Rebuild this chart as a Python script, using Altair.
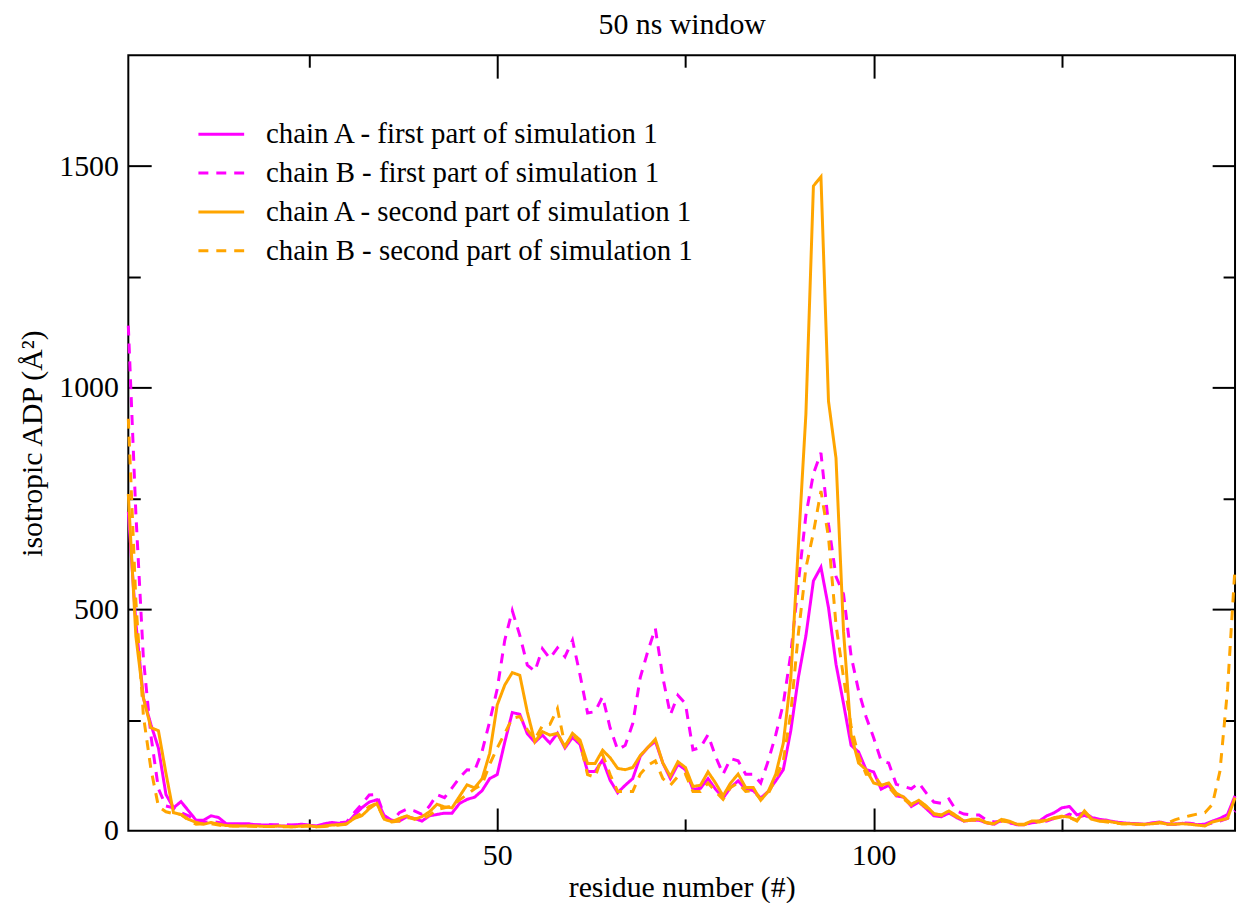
import altair as alt
import pandas as pd

residues = list(range(1, 149))

chainA_first = [720, 470, 300, 240, 187, 82, 52, 66, 45, 24,
                24, 34, 30, 16, 16, 16, 16, 13, 13, 13,
                11, 11, 13, 15, 13, 11, 16, 19, 17, 16,
                35, 52, 65, 70, 34, 24, 22, 32, 28, 22,
                34, 37, 40, 40, 62, 71, 76, 91, 118, 127,
                200, 267, 263, 219, 200, 216, 198, 220, 187, 211,
                195, 134, 134, 160, 114, 86, 103, 118, 168, 188,
                202, 153, 118, 150, 138, 94, 96, 118, 94, 74,
                98, 113, 94, 91, 74, 89, 113, 138, 227, 346,
                440, 564, 595, 504, 376, 287, 193, 178, 138, 133,
                94, 103, 79, 76, 55, 65, 50, 34, 32, 40,
                30, 22, 24, 24, 18, 15, 24, 20, 14, 14,
                20, 22, 34, 41, 52, 55, 36, 41, 30, 26,
                24, 20, 18, 17, 16, 15, 18, 20, 16, 15,
                17, 16, 14, 15, 22, 28, 37, 79]

chainB_first = [1140, 717, 390, 215, 95, 56, 52, 41, 34, 22,
                19, 21, 19, 16, 14, 14, 14, 14, 13, 14,
                14, 14, 13, 14, 12, 10, 14, 17, 18, 20,
                41, 60, 81, 82, 34, 22, 41, 49, 45, 37,
                56, 82, 75, 97, 120, 138, 136, 180, 247, 320,
                430, 497, 441, 374, 360, 411, 389, 413, 393, 430,
                352, 266, 269, 303, 232, 183, 193, 242, 346, 405,
                457, 346, 262, 306, 287, 183, 188, 217, 168, 128,
                163, 158, 128, 128, 108, 158, 217, 287, 400, 560,
                712, 806, 853, 692, 574, 534, 395, 316, 257, 210,
                158, 153, 105, 100, 95, 108, 85, 65, 62, 72,
                45, 38, 36, 36, 24, 20, 22, 18, 15, 14,
                18, 20, 22, 28, 30, 38, 30, 35, 28, 24,
                22, 20, 18, 17, 15, 15, 17, 18, 15, 15,
                18, 17, 15, 13, 18, 22, 28, 45]

chainA_second = [760, 440, 300, 233, 226, 130, 41, 37, 26, 19,
                 15, 19, 15, 12, 11, 11, 11, 11, 10, 10,
                 11, 10, 9, 11, 12, 9, 11, 13, 14, 16,
                 28, 34, 50, 62, 26, 21, 28, 34, 26, 32,
                 43, 60, 54, 52, 78, 104, 97, 118, 175, 284,
                 329, 357, 351, 268, 201, 224, 216, 220, 190, 220,
                 205, 152, 152, 182, 165, 141, 138, 143, 170, 188,
                 207, 153, 123, 156, 143, 100, 103, 133, 108, 79,
                 108, 128, 98, 98, 69, 89, 128, 198, 346, 643,
                 940, 1455, 1476, 970, 841, 450, 217, 153, 138, 108,
                 103, 108, 85, 76, 60, 69, 56, 39, 36, 45,
                 34, 22, 26, 26, 19, 16, 26, 22, 15, 15,
                 22, 22, 24, 30, 33, 31, 22, 45, 26, 22,
                 22, 19, 16, 16, 15, 15, 16, 19, 15, 15,
                 16, 15, 13, 11, 20, 24, 28, 75]

chainB_second = [930, 520, 260, 140, 55, 43, 39, 37, 24, 15,
                 16, 16, 13, 11, 11, 11, 11, 10, 10, 10,
                 10, 9, 9, 10, 11, 9, 10, 12, 13, 15,
                 30, 40, 55, 62, 26, 20, 22, 30, 28, 26,
                 35, 48, 52, 56, 70, 82, 95, 105, 150, 187,
                 220, 254, 258, 228, 207, 237, 240, 276, 192, 216,
                 200, 127, 121, 172, 127, 89, 89, 89, 128, 148,
                 158, 118, 103, 123, 128, 89, 89, 108, 89, 71,
                 98, 108, 89, 91, 71, 84, 118, 158, 267, 445,
                 593, 673, 767, 663, 465, 346, 237, 168, 128, 128,
                 103, 98, 80, 72, 58, 65, 52, 38, 35, 42,
                 32, 22, 24, 24, 18, 15, 22, 20, 14, 14,
                 20, 20, 24, 28, 32, 30, 24, 42, 25, 22,
                 20, 18, 16, 16, 15, 14, 16, 18, 17, 25,
                 30, 34, 38, 41, 60, 135, 318, 595]

series_names = [
    "chain A - first part of simulation 1",
    "chain B - first part of simulation 1",
    "chain A - second part of simulation 1",
    "chain B - second part of simulation 1",
]
series_values = [chainA_first, chainB_first, chainA_second, chainB_second]
series_colors = ["#ff00ff", "#ff00ff", "#ffa500", "#ffa500"]
series_dashes = [[1, 0], [10, 8], [1, 0], [10, 8]]

chart_title = "50 ns window"
x_title = "residue number (#)"
y_title = "isotropic ADP (Å²)"

x_label_values = [50, 100]
x_tick_values = [25, 50, 75, 100, 125]
y_label_values = [0, 500, 1000, 1500]
y_tick_values = [250, 500, 750, 1000, 1250, 1500]

rows = []
for name, vals in zip(series_names, series_values):
    for r, v in zip(residues, vals):
        rows.append({"residue": r, "value": v, "series": name})
df = pd.DataFrame(rows)

W, H = 1113, 780
FONT = "Liberation Serif"

xscale = alt.Scale(domain=[1, 148], nice=False, zero=False)
yscale = alt.Scale(domain=[0, 1750], nice=False, zero=True)

legend = alt.Legend(
    orient="none", legendX=79, legendY=65, title=None,
    symbolType="M-2,0L2,0", symbolSize=529, symbolStrokeWidth=3,
    labelFont=FONT, labelFontSize=29, labelColor="black",
    labelOffset=30.5, rowPadding=9, padding=0, labelLimit=0,
)
color = alt.Color("series:N", scale=alt.Scale(domain=series_names, range=series_colors), legend=legend)
dash = alt.StrokeDash("series:N", scale=alt.Scale(domain=series_names, range=series_dashes), legend=legend)

x_tick_size = {"condition": {"test": "datum.value % 50 === 0", "value": 23}, "value": 12}
y_tick_size = {"condition": {"test": "datum.value % 500 === 0", "value": 23}, "value": 12}

label_x_axis = alt.Axis(orient="bottom", values=x_label_values, ticks=False, tickSize=0, domain=False,
                        grid=False, labelFont=FONT, labelFontSize=30, labelColor="black",
                        labelBaseline="alphabetic", labelPadding=34, format="d",
                        title=x_title, titleFont=FONT, titleFontSize=30,
                        titleFontWeight="normal", titleColor="black",
                        titleBaseline="alphabetic", titleY=66)
label_y_axis = alt.Axis(orient="left", values=y_label_values, ticks=False, tickSize=0, domain=False,
                        grid=False, labelFont=FONT, labelFontSize=30, labelColor="black",
                        labelPadding=10, format="d",
                        title=y_title, titleFont=FONT, titleFontSize=30,
                        titleFontWeight="normal", titleColor="black",
                        titleBaseline="middle", titleX=-96)

inner_bl_x = alt.Axis(orient="top", offset=-H, values=x_tick_values, tickSize=x_tick_size,
                      tickWidth=2, tickColor="black", labels=False, domain=False, grid=False, title=None)
inner_bl_y = alt.Axis(orient="right", offset=-W, values=y_tick_values, tickSize=y_tick_size,
                      tickWidth=2, tickColor="black", labels=False, domain=False, grid=False, title=None)
inner_tr_x = alt.Axis(orient="bottom", offset=-H, values=x_tick_values, tickSize=x_tick_size,
                      tickWidth=2, tickColor="black", labels=False, domain=False, grid=False, title=None)
inner_tr_y = alt.Axis(orient="left", offset=-W, values=y_tick_values, tickSize=y_tick_size,
                      tickWidth=2, tickColor="black", labels=False, domain=False, grid=False, title=None)

title_axis = alt.Axis(orient="top", values=x_label_values, ticks=False, labels=False, domain=False,
                      grid=False, title=chart_title, titleFont=FONT, titleFontSize=30,
                      titleFontWeight="normal", titleColor="black",
                      titleBaseline="alphabetic", titleY=-22)


def layer(name, xaxis, yaxis):
    return alt.Chart(df).transform_filter(alt.datum.series == name).mark_line(strokeWidth=3).encode(
        x=alt.X("residue:Q", scale=xscale, axis=xaxis),
        y=alt.Y("value:Q", scale=yscale, axis=yaxis),
        color=color,
        strokeDash=dash,
    )


chart = alt.layer(
    layer(series_names[0], label_x_axis, label_y_axis),
    layer(series_names[1], inner_bl_x, inner_bl_y),
    layer(series_names[2], inner_tr_x, inner_tr_y),
    layer(series_names[3], title_axis, None),
).resolve_axis(x="independent", y="independent").properties(
    width=W, height=H,
    autosize=alt.AutoSizeParams(type="none"),
    padding={"left": 121, "top": 45, "right": 4, "bottom": 70},
).configure_view(stroke="black", strokeWidth=2)

chart.save("out.html", embed_options={"renderer": "svg", "actions": False})
